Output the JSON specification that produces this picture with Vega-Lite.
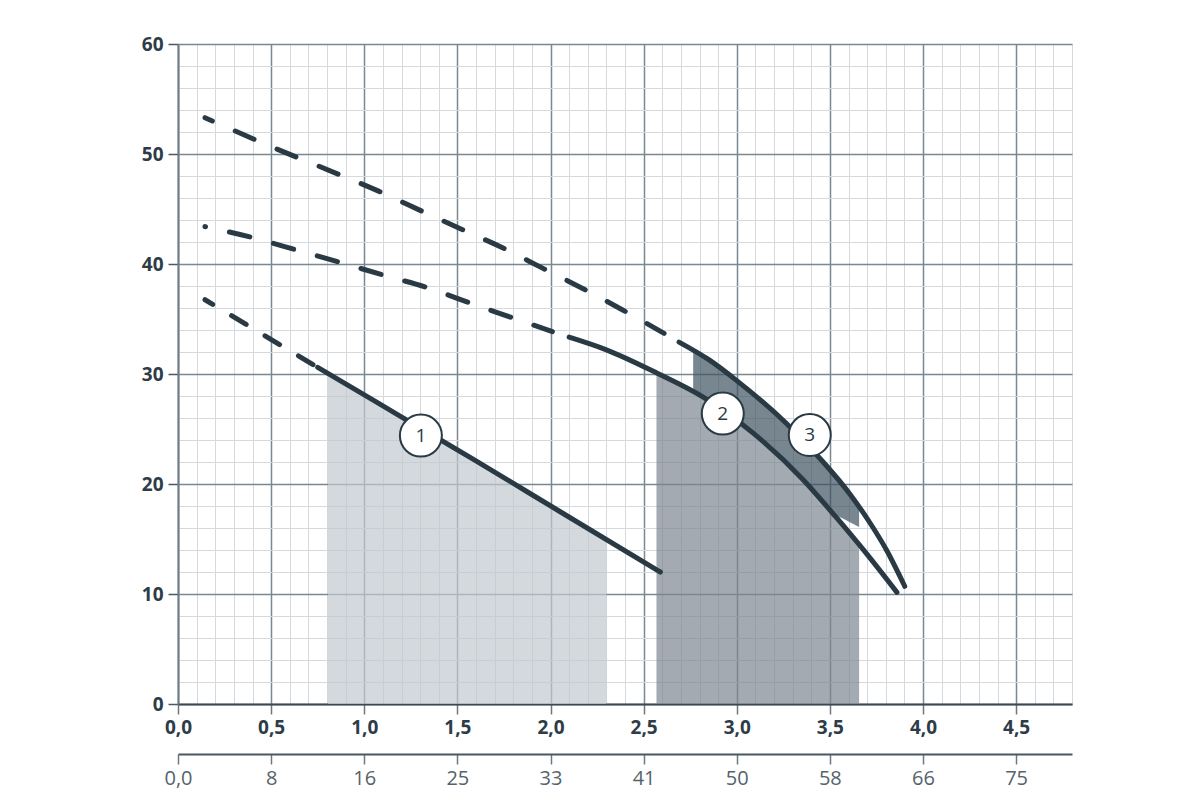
{
  "$schema": "https://vega.github.io/schema/vega-lite/v6.json",
  "width": 894,
  "height": 660,
  "autosize": "none",
  "padding": {"left": 178, "top": 44, "right": 128, "bottom": 96},
  "config": {"view": {"stroke": null}, "font": "Open Sans"},
  "datasets": {
    "regions": [
      {"region": "1", "x": 0.805, "top": 30.05, "bottom": 0},
      {"region": "1", "x": 2.30, "top": 14.95, "bottom": 0},
      {"region": "2", "x": 2.569, "top": 30.1, "bottom": 0},
      {"region": "2", "x": 2.82, "top": 27.9, "bottom": 0},
      {"region": "2", "x": 3.09, "top": 24.6, "bottom": 0},
      {"region": "2", "x": 3.35, "top": 20.5, "bottom": 0},
      {"region": "2", "x": 3.53, "top": 17.05, "bottom": 0},
      {"region": "2", "x": 3.657, "top": 14.45, "bottom": 0},
      {"region": "3", "x": 2.766, "top": 32.1, "bottom": 28.4},
      {"region": "3", "x": 2.85, "top": 31.3, "bottom": 27.53},
      {"region": "3", "x": 3.0, "top": 29.4, "bottom": 25.7},
      {"region": "3", "x": 3.1, "top": 27.95, "bottom": 24.44},
      {"region": "3", "x": 3.267, "top": 25.5, "bottom": 21.8},
      {"region": "3", "x": 3.4, "top": 23.13, "bottom": 19.55},
      {"region": "3", "x": 3.5, "top": 21.27, "bottom": 17.6},
      {"region": "3", "x": 3.6, "top": 19.24, "bottom": 16.6},
      {"region": "3", "x": 3.657, "top": 17.95, "bottom": 16.1}
    ],
    "curves": [
      {"curve": "1", "part": "dash", "x": 0.145, "y": 36.75},
      {"curve": "1", "part": "dash", "x": 0.45, "y": 33.65},
      {"curve": "1", "part": "dash", "x": 0.745, "y": 30.65},
      {"curve": "1", "part": "solid", "x": 0.75, "y": 30.6},
      {"curve": "1", "part": "solid", "x": 1.19, "y": 26.2},
      {"curve": "1", "part": "solid", "x": 1.6, "y": 22.1},
      {"curve": "1", "part": "solid", "x": 2.05, "y": 17.5},
      {"curve": "1", "part": "solid", "x": 2.59, "y": 12.0},
      {"curve": "2", "part": "dash", "x": 0.145, "y": 43.4},
      {"curve": "2", "part": "dash", "x": 0.4, "y": 42.4},
      {"curve": "2", "part": "dash", "x": 0.63, "y": 41.3},
      {"curve": "2", "part": "dash", "x": 0.86, "y": 40.2},
      {"curve": "2", "part": "dash", "x": 1.1, "y": 39.0},
      {"curve": "2", "part": "dash", "x": 1.33, "y": 37.9},
      {"curve": "2", "part": "dash", "x": 1.56, "y": 36.5},
      {"curve": "2", "part": "dash", "x": 1.78, "y": 35.2},
      {"curve": "2", "part": "dash", "x": 2.01, "y": 33.85},
      {"curve": "2", "part": "solid", "x": 2.1, "y": 33.35},
      {"curve": "2", "part": "solid", "x": 2.3, "y": 32.2},
      {"curve": "2", "part": "solid", "x": 2.57, "y": 30.1},
      {"curve": "2", "part": "solid", "x": 2.82, "y": 27.9},
      {"curve": "2", "part": "solid", "x": 3.09, "y": 24.6},
      {"curve": "2", "part": "solid", "x": 3.35, "y": 20.5},
      {"curve": "2", "part": "solid", "x": 3.53, "y": 17.05},
      {"curve": "2", "part": "solid", "x": 3.7, "y": 13.6},
      {"curve": "2", "part": "solid", "x": 3.86, "y": 10.15},
      {"curve": "3", "part": "dash", "x": 0.145, "y": 53.3},
      {"curve": "3", "part": "dash", "x": 0.51, "y": 50.6},
      {"curve": "3", "part": "dash", "x": 0.87, "y": 48.1},
      {"curve": "3", "part": "dash", "x": 1.08, "y": 46.6},
      {"curve": "3", "part": "dash", "x": 1.31, "y": 44.8},
      {"curve": "3", "part": "dash", "x": 1.53, "y": 43.1},
      {"curve": "3", "part": "dash", "x": 1.74, "y": 41.5},
      {"curve": "3", "part": "dash", "x": 1.96, "y": 39.6},
      {"curve": "3", "part": "dash", "x": 2.17, "y": 37.8},
      {"curve": "3", "part": "dash", "x": 2.39, "y": 35.8},
      {"curve": "3", "part": "dash", "x": 2.61, "y": 33.7},
      {"curve": "3", "part": "solid", "x": 2.69, "y": 32.9},
      {"curve": "3", "part": "solid", "x": 2.85, "y": 31.3},
      {"curve": "3", "part": "solid", "x": 3.0, "y": 29.4},
      {"curve": "3", "part": "solid", "x": 3.267, "y": 25.5},
      {"curve": "3", "part": "solid", "x": 3.464, "y": 22.0},
      {"curve": "3", "part": "solid", "x": 3.607, "y": 19.1},
      {"curve": "3", "part": "solid", "x": 3.714, "y": 16.5},
      {"curve": "3", "part": "solid", "x": 3.804, "y": 14.0},
      {"curve": "3", "part": "solid", "x": 3.902, "y": 10.7}
    ],
    "labels": [
      {"label": "1", "x": 1.304, "y": 24.4},
      {"label": "2", "x": 2.925, "y": 26.4},
      {"label": "3", "x": 3.392, "y": 24.45}
    ]
  },
  "resolve": {"axis": {"x": "independent", "y": "independent"}},
  "layer": [
    {
      "data": {"name": "regions"},
      "mark": {"type": "area", "interpolate": "monotone", "opacity": 0.7},
      "encoding": {
        "x": {
          "field": "x",
          "type": "quantitative",
          "scale": {"domain": [0, 4.8], "nice": false},
          "axis": {
            "orient": "bottom",
            "title": null,
            "values": [0, 0.1, 0.2, 0.3, 0.4, 0.5, 0.6, 0.7, 0.8, 0.9, 1, 1.1, 1.2, 1.3, 1.4, 1.5, 1.6, 1.7, 1.8, 1.9, 2, 2.1, 2.2, 2.3, 2.4, 2.5, 2.6, 2.7, 2.8, 2.9, 3, 3.1, 3.2, 3.3, 3.4, 3.5, 3.6, 3.7, 3.8, 3.9, 4, 4.1, 4.2, 4.3, 4.4, 4.5, 4.6, 4.7, 4.8],
            "grid": true,
            "gridColor": {"condition": {"test": "abs(datum.value*2-round(datum.value*2))<0.001", "value": "#7a8891"}, "value": "#d3d9dd"},
            "gridWidth": {"condition": {"test": "abs(datum.value*2-round(datum.value*2))<0.001", "value": 1.5}, "value": 1},
            "tickOpacity": {"condition": {"test": "abs(datum.value*2-round(datum.value*2))<0.001", "value": 1}, "value": 0},
            "tickColor": "#6b7882",
            "tickSize": 10,
            "tickWidth": 1.5,
            "labelExpr": "abs(datum.value*2-round(datum.value*2))<0.001 ? replace(format(datum.value, '.1f'), '.', ',') : ''",
            "labelFont": "Open Sans",
            "labelFontSize": 19,
            "labelFontWeight": "bold",
            "labelColor": "#2d3c46",
            "labelPadding": 4,
            "labelOverlap": false,
            "labelFlush": false,
            "domainColor": "#3b4953",
            "domainWidth": 2
          }
        },
        "y": {
          "field": "top",
          "type": "quantitative",
          "scale": {"domain": [0, 60], "nice": false},
          "axis": {
            "orient": "left",
            "title": null,
            "values": [0, 2, 4, 6, 8, 10, 12, 14, 16, 18, 20, 22, 24, 26, 28, 30, 32, 34, 36, 38, 40, 42, 44, 46, 48, 50, 52, 54, 56, 58, 60],
            "grid": true,
            "gridColor": {"condition": {"test": "datum.value % 10 === 0", "value": "#7a8891"}, "value": "#d3d9dd"},
            "gridWidth": {"condition": {"test": "datum.value % 10 === 0", "value": 1.5}, "value": 1},
            "tickOpacity": {"condition": {"test": "datum.value % 10 === 0", "value": 1}, "value": 0},
            "tickColor": "#4a5862",
            "tickSize": 10,
            "tickWidth": 1.5,
            "labelExpr": "datum.value % 10 === 0 ? datum.label : ''",
            "labelFont": "Open Sans",
            "labelFontSize": 19,
            "labelFontWeight": "bold",
            "labelColor": "#2d3c46",
            "labelPadding": 5,
            "labelOverlap": false,
            "labelFlush": false,
            "domainColor": "#6f7c85",
            "domainWidth": 2
          }
        },
        "y2": {"field": "bottom"},
        "color": {
          "field": "region",
          "type": "nominal",
          "scale": {"domain": ["1", "2", "3"], "range": ["#c2c9ce", "#7c8690", "#3e525f"]},
          "legend": null
        }
      }
    },
    {
      "data": {"name": "curves"},
      "transform": [{"filter": "datum.curve === '1' && datum.part === 'dash'"}],
      "mark": {"type": "line", "color": "#2a3a44", "strokeWidth": 5, "strokeCap": "round", "strokeDash": [17, 22], "strokeDashOffset": 8},
      "encoding": {
        "x": {"field": "x", "type": "quantitative", "axis": null},
        "y": {"field": "y", "type": "quantitative", "axis": null}
      }
    },
    {
      "data": {"name": "curves"},
      "transform": [{"filter": "datum.curve === '2' && datum.part === 'dash'"}],
      "mark": {"type": "line", "interpolate": "monotone", "color": "#2a3a44", "strokeWidth": 5, "strokeCap": "round", "strokeDash": [21, 24.5], "strokeDashOffset": 20.5},
      "encoding": {
        "x": {"field": "x", "type": "quantitative", "axis": null},
        "y": {"field": "y", "type": "quantitative", "axis": null}
      }
    },
    {
      "data": {"name": "curves"},
      "transform": [{"filter": "datum.curve === '3' && datum.part === 'dash'"}],
      "mark": {"type": "line", "interpolate": "monotone", "color": "#2a3a44", "strokeWidth": 5, "strokeCap": "round", "strokeDash": [20.5, 25], "strokeDashOffset": 12.5},
      "encoding": {
        "x": {"field": "x", "type": "quantitative", "axis": null},
        "y": {"field": "y", "type": "quantitative", "axis": null}
      }
    },
    {
      "data": {"name": "curves"},
      "transform": [{"filter": "datum.part === 'solid'"}],
      "mark": {"type": "line", "interpolate": "monotone", "color": "#2a3a44", "strokeWidth": 5, "strokeCap": "round"},
      "encoding": {
        "x": {
          "field": "x",
          "type": "quantitative",
          "axis": {
            "orient": "bottom",
            "offset": 50,
            "title": null,
            "grid": false,
            "values": [0, 0.5, 1, 1.5, 2, 2.5, 3, 3.5, 4, 4.5],
            "labelExpr": "datum.value == 0 ? '0,0' : format(floor(datum.value*50/3+0.001), 'd')",
            "labelFont": "Open Sans",
            "labelFontSize": 20,
            "labelFontWeight": "normal",
            "labelColor": "#55636c",
            "labelPadding": 4,
            "labelOverlap": false,
            "labelFlush": false,
            "tickColor": "#6b7882",
            "tickSize": 10,
            "tickWidth": 1.5,
            "domainColor": "#4a5862",
            "domainWidth": 2
          }
        },
        "y": {"field": "y", "type": "quantitative", "axis": null},
        "detail": {"field": "curve", "type": "nominal"}
      }
    },
    {
      "data": {"name": "labels"},
      "mark": {"type": "point", "shape": "circle", "filled": true, "fill": "#ffffff", "stroke": "#2a3a44", "strokeWidth": 2, "size": 1764, "opacity": 1},
      "encoding": {
        "x": {"field": "x", "type": "quantitative", "axis": null},
        "y": {"field": "y", "type": "quantitative", "axis": null}
      }
    },
    {
      "data": {"name": "labels"},
      "mark": {"type": "text", "font": "Open Sans", "fontSize": 19, "color": "#2a3a44", "align": "center", "baseline": "middle"},
      "encoding": {
        "x": {"field": "x", "type": "quantitative", "axis": null},
        "y": {"field": "y", "type": "quantitative", "axis": null},
        "text": {"field": "label"}
      }
    }
  ]
}
